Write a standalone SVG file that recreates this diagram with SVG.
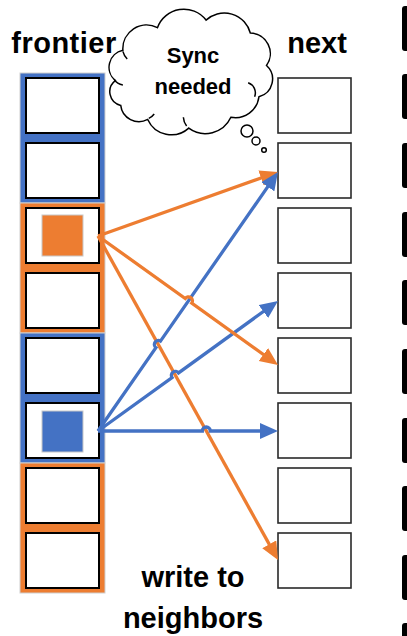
<svg xmlns="http://www.w3.org/2000/svg" width="407" height="636" viewBox="0 0 407 636">
  <style>
    .title { font-family: "Liberation Sans", Arial, sans-serif; font-weight: bold; font-size: 29px; fill: #000; text-anchor: middle; }
    .cloudtxt { font-family: "Liberation Sans", Arial, sans-serif; font-weight: bold; font-size: 22px; fill: #000; text-anchor: middle; }
    .band-blue { fill: #4472C4; stroke: #cfcfcf; stroke-width: 1; }
    .band-orange { fill: #ED7D31; stroke: #cfcfcf; stroke-width: 1; }
    .cell { fill: #fff; stroke: #000; stroke-width: 2; }
    .next { fill: #fff; stroke: #2a2a2a; stroke-width: 1.6; }
    .mark-o { fill: #ED7D31; stroke: #c8c8c8; stroke-width: 1; }
    .mark-b { fill: #4472C4; stroke: #c8c8c8; stroke-width: 1; }
    .bar { fill: #000; }
    .cloud { fill: #fff; stroke: #000; stroke-width: 1.5; vector-effect: non-scaling-stroke; }
    .curl { fill: none; stroke: #000; stroke-width: 1.5; vector-effect: non-scaling-stroke; }
    .edge-o { fill: none; stroke: #ED7D31; stroke-width: 3.3; marker-end: url(#head-o); }
    .edge-b { fill: none; stroke: #4472C4; stroke-width: 3.3; marker-end: url(#head-b); }
  </style>
  <defs>
    <marker id="head-o" markerUnits="userSpaceOnUse" markerWidth="19" markerHeight="17" refX="9" refY="8" orient="auto">
      <path d="M0,0 L18,8 L0,16 z" fill="#ED7D31"/>
    </marker>
    <marker id="head-b" markerUnits="userSpaceOnUse" markerWidth="19" markerHeight="17" refX="9" refY="8" orient="auto">
      <path d="M0,0 L18,8 L0,16 z" fill="#4472C4"/>
    </marker>
  </defs>

  <rect width="407" height="636" fill="#fff"/>

  <!-- headings -->
  <text class="title" x="64" y="53" letter-spacing="0.5">frontier</text>
  <text class="title" x="317" y="53">next</text>

  <!-- frontier column: colored bands with cells -->
  <g id="frontier">
    <rect class="band-blue" x="20" y="73" width="85" height="130"/>
    <rect class="band-orange" x="20" y="203" width="85" height="130"/>
    <rect class="band-blue" x="20" y="333" width="85" height="130"/>
    <rect class="band-orange" x="20" y="463" width="85" height="130"/>
    <rect class="cell" x="26" y="78" width="73" height="55"/>
    <rect class="cell" x="26" y="143" width="73" height="55"/>
    <rect class="cell" x="26" y="208" width="73" height="55"/>
    <rect class="cell" x="26" y="273" width="73" height="55"/>
    <rect class="cell" x="26" y="338" width="73" height="55"/>
    <rect class="cell" x="26" y="403" width="73" height="55"/>
    <rect class="cell" x="26" y="468" width="73" height="55"/>
    <rect class="cell" x="26" y="533" width="73" height="55"/>
  </g>
  <g id="active-orange">
    <rect class="mark-o" x="42" y="215" width="41" height="41"/>
  </g>
  <g id="active-blue">
    <rect class="mark-b" x="42" y="411" width="41" height="41"/>
  </g>

  <!-- next column -->
  <g id="next">
    <rect class="next" x="278" y="78" width="73" height="55"/>
    <rect class="next" x="278" y="143" width="73" height="55"/>
    <rect class="next" x="278" y="208" width="73" height="55"/>
    <rect class="next" x="278" y="273" width="73" height="55"/>
    <rect class="next" x="278" y="338" width="73" height="55"/>
    <rect class="next" x="278" y="403" width="73" height="55"/>
    <rect class="next" x="278" y="468" width="73" height="55"/>
    <rect class="next" x="278" y="533" width="73" height="55"/>
  </g>

  <!-- bars along the right edge -->
  <g id="edge-bars">
    <rect class="bar" x="402" y="6" width="12" height="45" rx="3"/>
    <rect class="bar" x="402" y="74" width="12" height="45" rx="3"/>
    <rect class="bar" x="402" y="143" width="12" height="45" rx="3"/>
    <rect class="bar" x="402" y="212" width="12" height="45" rx="3"/>
    <rect class="bar" x="402" y="280" width="12" height="45" rx="3"/>
    <rect class="bar" x="402" y="349" width="12" height="45" rx="3"/>
    <rect class="bar" x="402" y="418" width="12" height="45" rx="3"/>
    <rect class="bar" x="402" y="486" width="12" height="45" rx="3"/>
    <rect class="bar" x="402" y="555" width="12" height="45" rx="3"/>
    <rect class="bar" x="402" y="623" width="12" height="45" rx="3"/>
  </g>

  <!-- thought cloud -->
  <g id="sync-cloud">
    <g transform="translate(192,73) scale(1.08) translate(-192,-73)">
      <path class="cloud" d="M121,80 A16,16 0 0 1 128,52 A22,22 0 0 1 160,31 A26,26 0 0 1 205,24 A25,25 0 0 1 246,36 A19,19 0 0 1 261,66 A17,17 0 0 1 254,95 A22,22 0 0 1 228,114 A26,26 0 0 1 189,124 A24,24 0 0 1 151,116 A17,17 0 0 1 126,103 A13,13 0 0 1 121,80 z"/>
      <path class="curl" d="M120,79 A10,10 0 0 0 128,84"/>
      <path class="curl" d="M128,53 A15,15 0 0 0 132,60"/>
      <path class="curl" d="M244,82 A10,10 0 0 1 250,95"/>
      <path class="curl" d="M187,122 A14,14 0 0 1 184,114"/>
      <path class="curl" d="M152,115 A12,12 0 0 0 157,111"/>
    </g>
    <circle class="cloud" cx="247" cy="131" r="6"/>
    <circle class="cloud" cx="256" cy="141" r="4"/>
    <circle class="cloud" cx="264" cy="150" r="2.3"/>
    <text class="cloudtxt" x="193" y="63">Sync</text>
    <text class="cloudtxt" x="193" y="94">needed</text>
  </g>

  <!-- writes from the active frontier cells to their neighbors -->
  <g id="connectors">
    <path class="edge-o" d="M98,236 L273.63,552.14"/>
    <path class="edge-o" d="M98,236 L269.52,175.02"/>
    <path class="edge-b" d="M98,431 L155.92,347.68 A4,4 0 0 1 160.48,341.12 L272.86,179.39"/>
    <path class="edge-b" d="M98,431 L172.06,377.54 A4,4 0 0 1 178.54,372.86 L270.70,306.27"/>
    <path class="edge-b" d="M98,431 L202.3,431 A4,4 0 0 1 210.3,431 L269,431"/>
    <path class="edge-o" d="M98,236 L185.25,298.47 A4,4 0 0 1 191.75,303.13 L270.69,359.76"/>
  </g>

  <text class="title" x="193" y="587">write to</text>
  <text class="title" x="193" y="628">neighbors</text>
</svg>
